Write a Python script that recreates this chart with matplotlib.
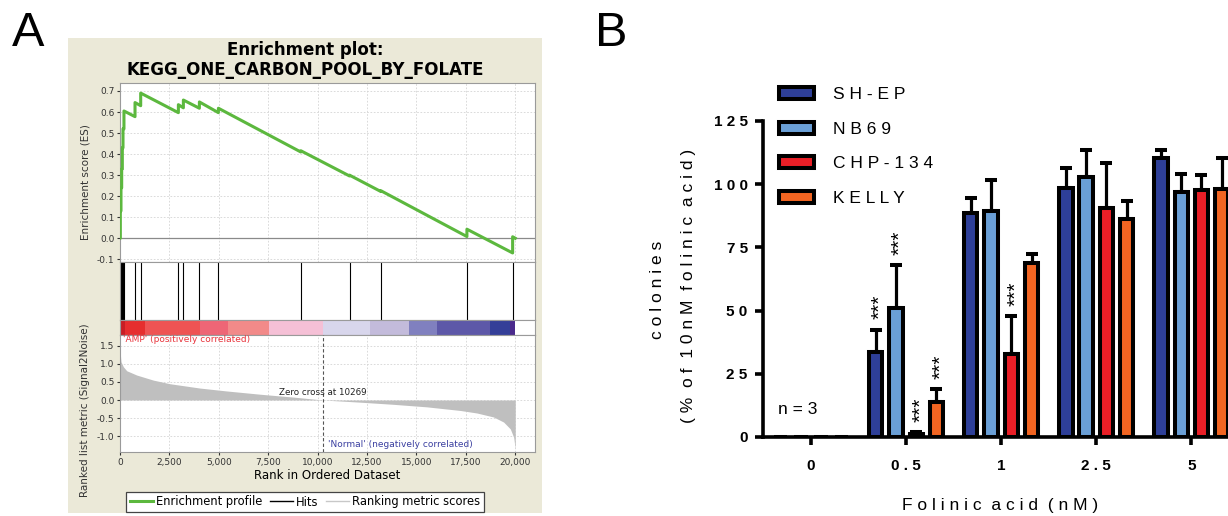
import matplotlib
matplotlib.use('Agg')
import matplotlib.pyplot as plt
from matplotlib.patches import Rectangle, Patch
from matplotlib.lines import Line2D
import numpy as np

plt.rcParams['axes.unicode_minus'] = False
plt.rcParams['font.family'] = 'DejaVu Sans'

W, H = 1228, 516

# ---------------- panel A: GSEA enrichment plot ----------------
# running enrichment score (rank, ES)
es_rank = [0, 17, 17, 50, 50, 85, 85, 118, 118, 152, 152, 200, 200, 760, 760,
           1047, 1047, 2954, 2954, 3207, 3207, 4017, 4017, 4980, 4980, 9150, 9150,
           11614, 11614, 13200, 13200, 17555, 17555, 19868, 19868, 20000]
es_score = [0.0, 0.0, 0.13, 0.13, 0.24, 0.24, 0.33, 0.33, 0.43, 0.43, 0.52, 0.52, 0.605,
            0.578, 0.645, 0.63, 0.69, 0.597, 0.635, 0.62, 0.657, 0.618, 0.648, 0.597, 0.618,
            0.41, 0.416, 0.296, 0.30, 0.222, 0.226, 0.008, 0.043, -0.07, 0.007, 0.0]
hit_ranks = [17, 50, 85, 118, 152, 200, 760, 1047, 2954, 3207, 4017, 4980,
             9150, 11614, 13200, 17555, 19868]

# ranked list metric (Signal2Noise), sampled from the gray profile
metric_rank = [0, 50, 170, 340, 850, 1690, 2530, 4050, 5400, 7090, 8780, 10269,
               12150, 13840, 15530, 17220, 18060, 18900, 19410, 19750, 19920, 20000]
metric_value = [1.38, 1.06, 0.92, 0.81, 0.69, 0.55, 0.45, 0.33, 0.25, 0.16, 0.08, 0.0,
                -0.06, -0.12, -0.19, -0.29, -0.36, -0.47, -0.61, -0.80, -1.03, -1.35]
zero_cross = 10269

# heat bar under the hits
heat_edges = [0, 253, 1266, 4051, 5486, 7545, 10297, 12660, 14601, 16036, 18737, 19750, 20000]
heat_colors = ['#c81e24', '#e62e2e', '#ee5353', '#ee6676', '#f28a89', '#f5c0d6',
               '#d8d6ec', '#c3bbdb', '#8080bf', '#5d58a8', '#343f98', '#4a2a8c']

es_ticks = [-0.1, 0.0, 0.1, 0.2, 0.3, 0.4, 0.5, 0.6, 0.7]
metric_ticks = [-1.0, -0.5, 0.0, 0.5, 1.0, 1.5]
rank_ticks = [0, 2500, 5000, 7500, 10000, 12500, 15000, 17500, 20000]

# ---------------- panel B: colony assay ----------------
doses = ['0', '0.5', '1', '2.5', '5']
cell_lines = ['SH-EP', 'NB69', 'CHP-134', 'KELLY']
sh_ep_mean = [0, 33.5, 88.5, 98.5, 110.5]
sh_ep_sd = [0, 9, 6, 8, 3]
nb69_mean = [0, 51, 89.5, 103, 97]
nb69_sd = [0, 17, 12, 10.5, 7]
chp134_mean = [0, 1, 33, 90.5, 97.8]
chp134_sd = [0, 1, 15, 18, 6]
kelly_mean = [0, 14, 69, 86.3, 98.2]
kelly_sd = [0, 5, 3.5, 7, 12]
# (dose index, cell line index) marked with ***
sig_marks = [(1, 0), (1, 1), (1, 2), (1, 3), (2, 2)]
bar_colors = ['#2e3f98', '#6a9fd6', '#ea1f27', '#f26522']
yticks_b = [0, 25, 50, 75, 100, 125]

fig = plt.figure(figsize=(W / 100, H / 100), dpi=100)


def px_axes(l, t, r, b):
    return fig.add_axes([l / W, 1 - b / H, (r - l) / W, (b - t) / H])


def spaced(s):
    # Prism-style wide letter spacing
    return '  '.join(' '.join(word) for word in s.split(' '))


# beige GSEA background
fig.add_artist(Rectangle((68 / W, 1 - 513 / H), (542 - 68) / W, (513 - 38) / H,
                         transform=fig.transFigure, facecolor='#ebe9d8',
                         edgecolor='none', zorder=-10))
fig.text(305 / W, 1 - 60 / H, 'Enrichment plot:\nKEGG_ONE_CARBON_POOL_BY_FOLATE',
         ha='center', va='center', fontsize=12, fontweight='bold', linespacing=1.1)

xmax = 21000
spine_col = '#9a9a9a'
grid_kw = dict(color='#d4d4d4', lw=0.6, ls=(0, (2, 2)))

ax_es = px_axes(120, 83, 535, 262)
ax_es.plot(es_rank, es_score, color='#5cb83e', lw=2.2, zorder=3)
ax_es.axhline(0, color='#8a8a8a', lw=0.9, zorder=2)
ax_es.set_xlim(0, xmax)
ax_es.set_ylim(-0.113, 0.738)
ax_es.set_yticks(es_ticks)
ax_es.set_yticklabels(['%.1f' % v for v in es_ticks])
ax_es.set_xticks(rank_ticks)
ax_es.tick_params(axis='x', length=0, labelbottom=False)
ax_es.tick_params(axis='y', length=2.5, labelsize=6.5, pad=1.5, colors='#333333')
ax_es.grid(True, **grid_kw)
ax_es.set_axisbelow(True)

ax_hits = px_axes(120, 262, 535, 320)
ax_hits.vlines(hit_ranks, 0, 1, color='black', lw=0.8)
ax_hits.set_xlim(0, xmax)
ax_hits.set_ylim(0, 1)
ax_hits.set_xticks([])
ax_hits.set_yticks([])

ax_heat = px_axes(120, 320, 535, 335)
ax_heat.broken_barh([(heat_edges[i], heat_edges[i + 1] - heat_edges[i]) for i in range(len(heat_colors))],
                    (0, 1), facecolors=heat_colors)
ax_heat.set_xlim(0, xmax)
ax_heat.set_ylim(0, 1)
ax_heat.set_xticks([])
ax_heat.set_yticks([])

ax_rk = px_axes(120, 335, 535, 452)
ax_rk.fill_between(metric_rank, metric_value, 0, color='#bfbfbf', lw=0, zorder=2)
ax_rk.axvline(zero_cross, color='#555555', lw=0.8, ls=(0, (3, 2)), zorder=3)
ax_rk.text(zero_cross, 0.08, 'Zero cross at %d' % zero_cross, ha='center', va='bottom',
           fontsize=6.3, color='#222222', zorder=4)
ax_rk.text(150, 1.67, "'AMP' (positively correlated)", ha='left', va='center',
           fontsize=6.5, color='#e8343c')
ax_rk.text(10500, -1.22, "'Normal' (negatively correlated)", ha='left', va='center',
           fontsize=6.5, color='#3a3fa0')
ax_rk.set_xlim(0, xmax)
ax_rk.set_ylim(-1.44, 1.80)
ax_rk.set_yticks(metric_ticks)
ax_rk.set_yticklabels(['%.1f' % v for v in metric_ticks])
ax_rk.set_xticks(rank_ticks)
ax_rk.set_xticklabels(['{:,}'.format(v) for v in rank_ticks])
ax_rk.tick_params(length=2.5, labelsize=6.5, pad=1.5, colors='#333333')
ax_rk.grid(True, **grid_kw)
ax_rk.set_axisbelow(True)
ax_rk.set_xlabel('Rank in Ordered Dataset', fontsize=8.5, labelpad=2)

for a in (ax_es, ax_hits, ax_heat, ax_rk):
    for sp in a.spines.values():
        sp.set_color(spine_col)
        sp.set_linewidth(0.8)

fig.text(85 / W, 1 - 182 / H, 'Enrichment score (ES)', rotation=90, ha='center',
         va='center', fontsize=7.5, color='#333333')
fig.text(85 / W, 1 - 410 / H, 'Ranked list metric (Signal2Noise)', rotation=90,
         ha='center', va='center', fontsize=7.5, color='#333333')

leg_a = fig.legend(handles=[Line2D([], [], color='#5cb83e', lw=2.2),
                            Line2D([], [], color='black', lw=1),
                            Line2D([], [], color='#c8c8c8', lw=1)],
                   labels=['Enrichment profile', 'Hits', 'Ranking metric scores'],
                   loc='center', bbox_to_anchor=(305 / W, 1 - 502 / H), ncol=3,
                   fontsize=8.3, fancybox=False, edgecolor='#444444', framealpha=1,
                   borderpad=0.3, handlelength=2.0, handletextpad=0.3,
                   columnspacing=0.6, borderaxespad=0)
leg_a.get_frame().set_linewidth(0.9)

# ---------------- panel B ----------------
fb = 'Liberation Sans'
ax = px_axes(763, 121, 1237, 437)
means = [sh_ep_mean, nb69_mean, chp134_mean, kelly_mean]
sds = [sh_ep_sd, nb69_sd, chp134_sd, kelly_sd]
step = 0.213
x0 = np.arange(len(doses))
for i, (m, s, c) in enumerate(zip(means, sds, bar_colors)):
    xs = x0 + (i - 1.5) * step
    m = np.array(m, dtype=float)
    s = np.array(s, dtype=float)
    ax.bar(xs, m, width=0.14, color=c, edgecolor='black', linewidth=2.9, zorder=3)
    keep = s > 0
    ax.errorbar(xs[keep], m[keep], yerr=[np.zeros(keep.sum()), s[keep]], fmt='none',
                ecolor='black', elinewidth=2.3, capsize=4, capthick=2.9, zorder=2)

for gi, ci in sig_marks:
    xs = gi + (ci - 1.5) * step
    ax.text(xs + 0.045, means[ci][gi] + sds[ci][gi] + 4, '***', rotation=90,
            ha='center', va='bottom', fontsize=15, family=fb)

ax.text(-0.35, 11, spaced('n=3'), ha='left', va='center', fontsize=12.5, family=fb)

ax.set_xlim(-0.505, 4.48)
ax.set_ylim(0, 125)
ax.spines['top'].set_visible(False)
ax.spines['right'].set_visible(False)
for side in ('left', 'bottom'):
    ax.spines[side].set_linewidth(2.6)
ax.set_yticks(yticks_b)
ax.set_yticklabels([spaced(str(v)) for v in yticks_b], fontweight='bold', family=fb, fontsize=11)
ax.set_xticks(x0)
ax.set_xticklabels([spaced(d) for d in doses], fontweight='bold', family=fb, fontsize=11)
ax.tick_params(axis='both', direction='out', length=6, width=2.6)
ax.tick_params(axis='y', pad=5)
ax.tick_params(axis='x', pad=10)
ax.set_xlabel(spaced('Folinic acid (nM)'), fontsize=12.5, family=fb, labelpad=18)

fig.text(657 / W, 1 - 290 / H, spaced('colonies'), rotation=90, ha='center', va='center',
         fontsize=12.5, family=fb)
fig.text(689 / W, 1 - 286 / H, spaced('(% of 10nM folinic acid)'), rotation=90,
         ha='center', va='center', fontsize=12.5, family=fb)

handles = [Patch(facecolor=c, edgecolor='black', linewidth=2.9) for c in bar_colors]
ax.legend(handles, [spaced(n) for n in cell_lines], loc='upper left',
          bbox_to_anchor=(779 / W, 1 - 87 / H), bbox_transform=fig.transFigure,
          frameon=False, prop={'family': fb, 'size': 12.5}, handlelength=2.0,
          handleheight=0.7, labelspacing=1.12, handletextpad=1.1, borderpad=0,
          borderaxespad=0)

fig.text(28 / W, 1 - 34 / H, 'A', ha='center', va='center', fontsize=35, family=fb)
fig.text(611 / W, 1 - 34 / H, 'B', ha='center', va='center', fontsize=35, family=fb)

fig.savefig('out.png', dpi=100)
